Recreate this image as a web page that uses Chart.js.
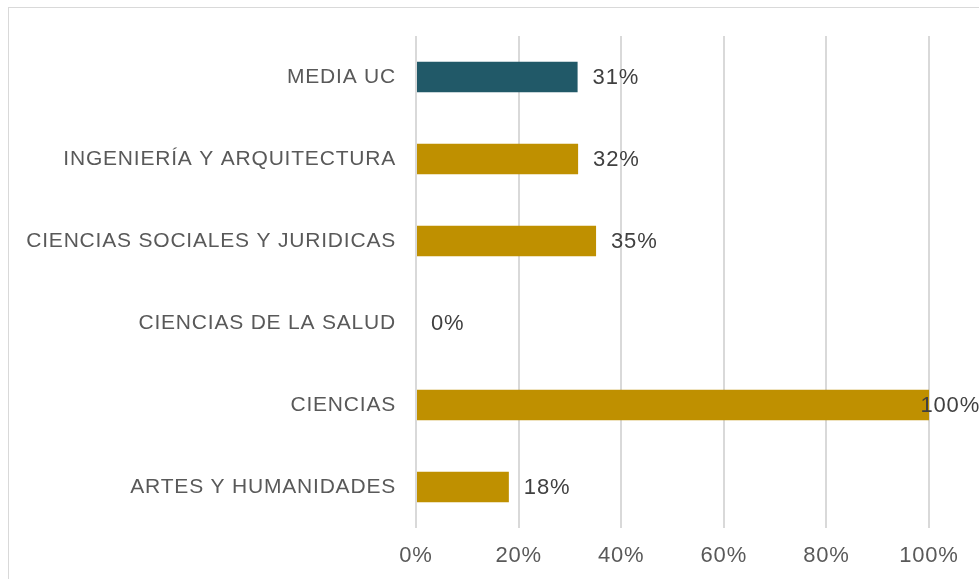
<!DOCTYPE html>
<html>
<head>
<meta charset="utf-8">
<script src="https://cdn.jsdelivr.net/npm/chart.js@4"></script>
<style>
  html, body { margin: 0; padding: 0; background: #fff; overflow: hidden; }
  #frame { position: absolute; left: 8px; top: 7px; width: 1200px; height: 800px; border: 1px solid #d9d9d9; }
  #wrap { position: absolute; left: 0; top: 0; width: 979px; height: 579px; }
</style>
</head>
<body>
<div id="frame"></div>
<div id="wrap"><canvas id="barChart" width="979" height="579"></canvas></div>
<script>
const categories = [
  "MEDIA UC",
  "INGENIERÍA Y ARQUITECTURA",
  "CIENCIAS SOCIALES Y JURIDICAS",
  "CIENCIAS DE LA SALUD",
  "CIENCIAS",
  "ARTES Y HUMANIDADES"
];
const values = [31.5, 31.6, 35.1, 0, 100, 18.1];
const valueLabels = ["31%", "32%", "35%", "0%", "100%", "18%"];
const barColors = ["#215968", "#bf9000", "#bf9000", "#bf9000", "#bf9000", "#bf9000"];

const FONT = "'Liberation Sans', Arial, sans-serif";
const SPACING = "0.8px";

// the original text is slightly tracked out, so widen it on the canvas
const tracking = {
  id: "tracking",
  beforeLayout(chart) { chart.ctx.letterSpacing = SPACING; },
  beforeDraw(chart) { chart.ctx.letterSpacing = SPACING; }
};

// value labels drawn just past the bar end, pushed back inside when they would leave the canvas
const barLabels = {
  id: "barLabels",
  afterDatasetsDraw(chart) {
    const ctx = chart.ctx;
    const meta = chart.getDatasetMeta(0);
    ctx.save();
    ctx.letterSpacing = SPACING;
    ctx.font = "22px " + FONT;
    ctx.fillStyle = "#404040";
    ctx.textBaseline = "middle";
    meta.data.forEach((bar, i) => {
      const txt = valueLabels[i];
      const w = ctx.measureText(txt).width;
      let x = bar.x + 15;
      if (x + w > chart.width) x = chart.width - w + 1;
      ctx.fillText(txt, x, bar.y + 1);
    });
    ctx.restore();
  }
};

new Chart(document.getElementById("barChart"), {
  type: "bar",
  data: {
    labels: categories,
    datasets: [{
      data: values,
      backgroundColor: barColors,
      barPercentage: 0.37,
      categoryPercentage: 1
    }]
  },
  options: {
    indexAxis: "y",
    responsive: false,
    animation: false,
    layout: { padding: { left: 0, top: 36, right: 50, bottom: 0 } },
    plugins: {
      legend: { display: false },
      tooltip: { enabled: false }
    },
    scales: {
      x: {
        min: 0,
        max: 100,
        ticks: {
          stepSize: 20,
          padding: 15,
          color: "#595959",
          font: { family: FONT, size: 22 },
          callback: v => v + "%"
        },
        grid: { color: "#d9d9d9", lineWidth: 2, drawTicks: false },
        border: { display: false },
        afterFit: s => { s.height = 51; }
      },
      y: {
        ticks: {
          padding: 20,
          color: "#595959",
          font: { family: FONT, size: 21 }
        },
        grid: { display: false, drawTicks: false },
        border: { display: false },
        afterFit: s => { s.width = 416; }
      }
    }
  },
  plugins: [tracking, barLabels]
});
</script>
</body>
</html>
